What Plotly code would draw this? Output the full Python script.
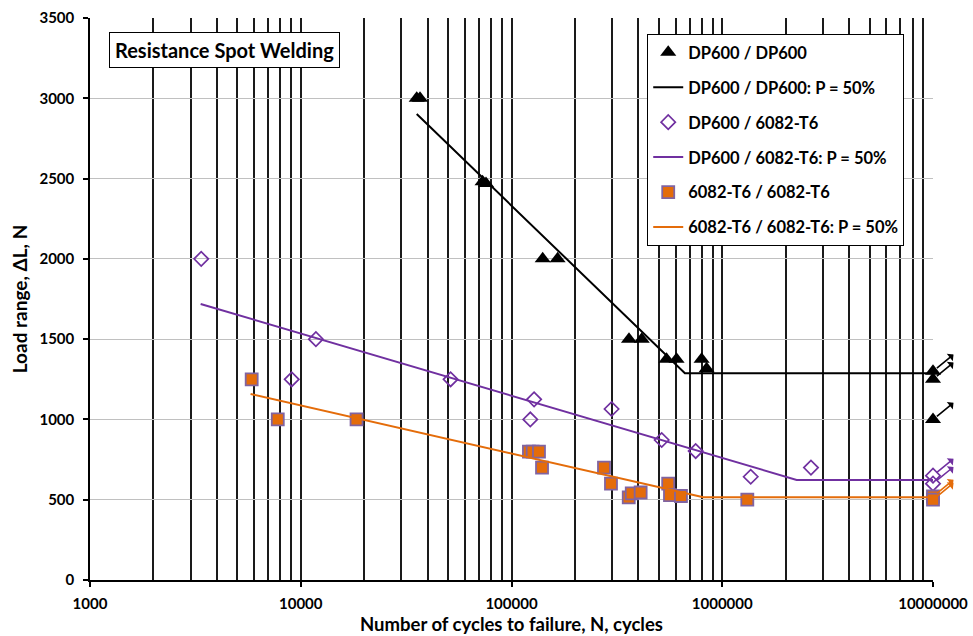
import math
import plotly.graph_objects as go

# ---------------- data ----------------
# DP600 / DP600 test results (cycles, load range N); N = 1e7 are run-outs
dp_dp_N = [35500, 36800, 72900, 75700, 140600, 165500, 361000, 415000,
           544000, 607000, 798000, 843000, 1e7, 1e7, 1e7]
dp_dp_L = [3000, 3000, 2480, 2470, 2000, 2000, 1500, 1500,
           1375, 1375, 1375, 1315, 1300, 1250, 1000]
# DP600 / DP600: P = 50% curve
dp_dp_fit_N = [35500, 665000, 1e7]
dp_dp_fit_L = [2902, 1287, 1287]

# DP600 / 6082-T6
dp_al_N = [3370, 9060, 11800, 51400, 122800, 128000, 298500, 516000,
           748000, 1365000, 2636000, 1e7, 1e7]
dp_al_L = [2000, 1250, 1500, 1250, 1000, 1125, 1065, 872,
           803, 643, 700, 650, 600]
dp_al_fit_N = [3350, 2254000, 1e7]
dp_al_fit_L = [1719, 623, 623]

# 6082-T6 / 6082-T6
al_al_N = [5850, 7780, 18400, 121000, 126000, 135000, 139600, 274700,
           296500, 360000, 372000, 410000, 554000, 565000, 637000,
           1315000, 1e7, 1e7]
al_al_L = [1250, 1000, 1000, 800, 800, 800, 700, 700,
           600, 515, 540, 545, 600, 528, 523,
           500, 520, 500]
al_al_fit_N = [5780, 813000, 1e7]
al_al_fit_L = [1158, 515, 515]

series_names = ["DP600 / DP600", "DP600 / DP600: P = 50%",
                "DP600 / 6082-T6", "DP600 / 6082-T6: P = 50%",
                "6082-T6 / 6082-T6", "6082-T6 / 6082-T6: P = 50%"]

x_tick_vals = [1000, 10000, 100000, 1000000, 10000000]
x_tick_text = ["1000", "10000", "100000", "1000000", "10000000"]
y_tick_vals = [0, 500, 1000, 1500, 2000, 2500, 3000, 3500]
runout_N = 1e7

# ---------------- styles ----------------
FONT = "Lato"
BLACK = "#000000"
PURPLE = "#7030A0"
ORANGE = "#E46C0A"
SQ_EDGE = "#8064A2"
VGRID = "#1a1a1a"

fig = go.Figure()

fig.add_trace(go.Scatter(x=dp_dp_N, y=dp_dp_L, mode="markers", name=series_names[0],
                         legendgroup="g1", cliponaxis=False,
                         marker=dict(symbol="triangle-up", size=14, color=BLACK)))
fig.add_trace(go.Scatter(x=dp_dp_fit_N, y=dp_dp_fit_L, mode="lines", name=series_names[1],
                         legendgroup="g2", cliponaxis=False,
                         line=dict(color=BLACK, width=2)))
fig.add_trace(go.Scatter(x=dp_al_N, y=dp_al_L, mode="markers", name=series_names[2],
                         legendgroup="g3", cliponaxis=False,
                         marker=dict(symbol="diamond-open", size=11, color=PURPLE,
                                     line=dict(width=1.7, color=PURPLE))))
fig.add_trace(go.Scatter(x=dp_al_fit_N, y=dp_al_fit_L, mode="lines", name=series_names[3],
                         legendgroup="g4", cliponaxis=False,
                         line=dict(color=PURPLE, width=2)))
fig.add_trace(go.Scatter(x=al_al_N, y=al_al_L, mode="markers", name=series_names[4],
                         legendgroup="g5", cliponaxis=False,
                         marker=dict(symbol="square", size=12, color=ORANGE,
                                     line=dict(width=1.8, color=SQ_EDGE))))
fig.add_trace(go.Scatter(x=al_al_fit_N, y=al_al_fit_L, mode="lines", name=series_names[5],
                         legendgroup="g6", cliponaxis=False,
                         line=dict(color=ORANGE, width=2)))

# run-out arrows, derived from the run-out points
annotations = []
for Ns, Ls, col in [(dp_dp_N, dp_dp_L, BLACK), (dp_al_N, dp_al_L, PURPLE),
                    (al_al_N, al_al_L, ORANGE)]:
    for n, l in zip(Ns, Ls):
        if n >= runout_N:
            annotations.append(dict(
                x=math.log10(n), y=l, xref="x", yref="y", text="",
                showarrow=True, ax=22, ay=-18, axref="pixel", ayref="pixel",
                arrowside="start", arrowhead=2, arrowsize=1, arrowwidth=1.6,
                arrowcolor=col, standoff=5))

annotations.append(dict(
    x=0.16, y=0.943, xref="paper", yref="paper", xanchor="center", yanchor="middle",
    text="Resistance Spot Welding", showarrow=False,
    font=dict(family=FONT, size=20, color=BLACK, weight="bold"),
    bgcolor="white", bordercolor=BLACK, borderwidth=1, borderpad=5))

minor_vals = [m * 10 ** e for e in range(3, 7) for m in range(2, 10)]

fig.update_layout(
    width=973, height=636,
    margin=dict(l=90, r=40, t=18, b=56),
    paper_bgcolor="white", plot_bgcolor="white",
    font=dict(family=FONT, color=BLACK),
    showlegend=True,
    legend=dict(x=0.661, y=0.9715, xanchor="left", yanchor="top",
                bgcolor="white", bordercolor=BLACK, borderwidth=1,
                font=dict(family=FONT, size=16.5, color=BLACK, weight="bold"),
                tracegroupgap=10.5, traceorder="grouped"),
    annotations=annotations,
    xaxis=dict(type="log", range=[3, 7],
               tickvals=x_tick_vals, ticktext=x_tick_text,
               ticks="outside", ticklen=5, tickwidth=1.5, tickcolor=BLACK,
               ticklabelstandoff=4, ticklabeloverflow="allow",
               showline=True, linecolor=BLACK, linewidth=1.5,
               showgrid=True, gridcolor=VGRID, gridwidth=1.6,
               minor=dict(tickvals=minor_vals, showgrid=True, gridcolor=VGRID,
                          gridwidth=1.6, ticks=""),
               tickfont=dict(family=FONT, size=15, color=BLACK, weight="bold"),
               title=dict(text="Number of cycles to failure, N, cycles",
                          font=dict(family=FONT, size=18.5, color=BLACK, weight="bold"),
                          standoff=7),
               zeroline=False, automargin=False),
    yaxis=dict(range=[0, 3500], tickvals=y_tick_vals,
               ticks="outside", ticklen=5, tickwidth=1.5, tickcolor=BLACK,
               ticklabelstandoff=6, ticklabeloverflow="allow",
               showline=True, linecolor=BLACK, linewidth=1.5,
               showgrid=True, gridcolor="#c0c0c0", gridwidth=1,
               tickfont=dict(family=FONT, size=15, color=BLACK, weight="bold"),
               title=dict(text="Load range, ΔL, N",
                          font=dict(family=FONT, size=19, color=BLACK, weight="bold"),
                          standoff=7),
               zeroline=False, automargin=False),
)

# remove the default page margin so the 973x636 figure fills the window exactly
fig.write_html("out.html",
               config={"displayModeBar": False},
               post_script="document.body.style.margin='0px';"
                           "document.body.style.overflow='hidden';")
